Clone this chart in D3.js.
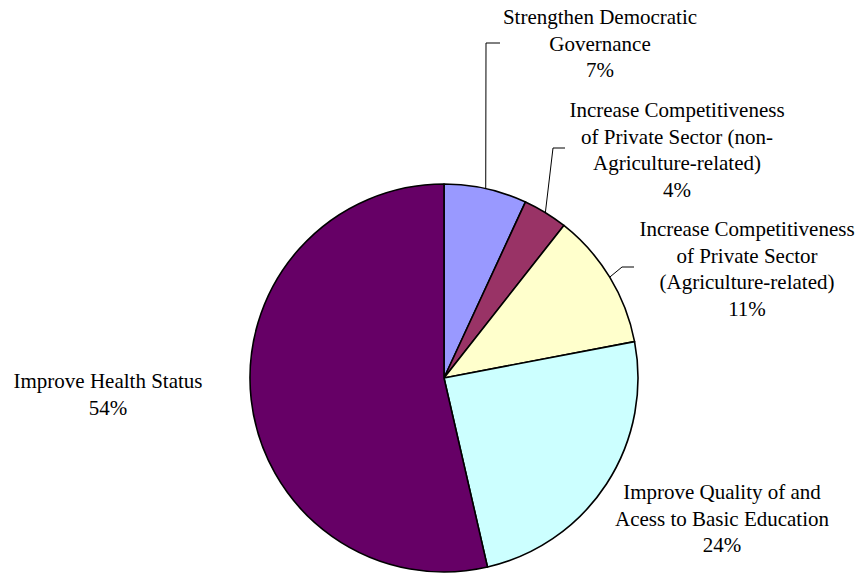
<!DOCTYPE html>
<html>
<head>
<meta charset="utf-8">
<script src="https://cdn.jsdelivr.net/npm/d3@7"></script>
<style>
  body { margin: 0; background: #fff; }
  svg text { font-family: 'Liberation Serif', 'Tinos', 'Times New Roman', 'DejaVu Serif'; font-size: 21px; fill: #000; }
</style>
</head>
<body>
<svg id="chart"></svg>
<script>
// slice data, clockwise from 12 o'clock
const categories = [
  ['Strengthen Democratic', 'Governance'],
  ['Increase Competitiveness', 'of Private Sector (non-', 'Agriculture-related)'],
  ['Increase Competitiveness', 'of Private Sector', '(Agriculture-related)'],
  ['Improve Quality of and', 'Acess to Basic Education'],
  ['Improve Health Status']
];
const shares = [6.9, 3.7, 11.4, 24.4, 53.6];
const colors = ['#9999FF', '#993366', '#FFFFCC', '#CCFFFF', '#660066'];

// label layout: centre x, first baseline y, and leader elbow (null = no leader)
const labelLayout = [
  {x: 600, y: 24, elbow: [486, 43], end: [500, 43]},
  {x: 677, y: 117, elbow: [553, 148], end: [565, 148]},
  {x: 747, y: 236, elbow: [622, 267], end: [634, 267]},
  {x: 722, y: 499, elbow: null},
  {x: 108, y: 388, elbow: null}
];

const width = 860, height = 573;
const cx = 444, cy = 378, radius = 194;
const lineH = 26.7;

const svg = d3.select('#chart')
    .attr('width', width)
    .attr('height', height);

const pie = d3.pie().sort(null).value(d => d);
const arcs = pie(shares);

const arc = d3.arc().innerRadius(0).outerRadius(radius);
const edge = d3.arc().innerRadius(radius).outerRadius(radius);

const g = svg.append('g')
    .attr('transform', `translate(${cx},${cy})`);

g.selectAll('path.slice')
    .data(arcs)
  .join('path')
    .attr('class', 'slice')
    .attr('d', arc)
    .attr('fill', (d, i) => colors[i])
    .attr('stroke', '#000')
    .attr('stroke-width', 1.6)
    .attr('stroke-linejoin', 'round');

// leader lines
arcs.forEach((d, i) => {
  const L = labelLayout[i];
  if (!L.elbow) return;
  const p = edge.centroid(d);
  const pts = [[cx + p[0], cy + p[1]], L.elbow, L.end];
  svg.append('path')
      .attr('d', d3.line()(pts))
      .attr('fill', 'none')
      .attr('stroke', '#000')
      .attr('stroke-width', 1);
});

// labels
const fmt = d3.format('.0f');
arcs.forEach((d, i) => {
  const L = labelLayout[i];
  const lines = categories[i].concat([fmt(shares[i]) + '%']);
  const t = svg.append('text')
      .attr('text-anchor', 'middle');
  lines.forEach((s, j) => {
    t.append('tspan')
        .attr('x', L.x)
        .attr('y', L.y + j * lineH)
        .text(s);
  });
});
</script>
</body>
</html>
